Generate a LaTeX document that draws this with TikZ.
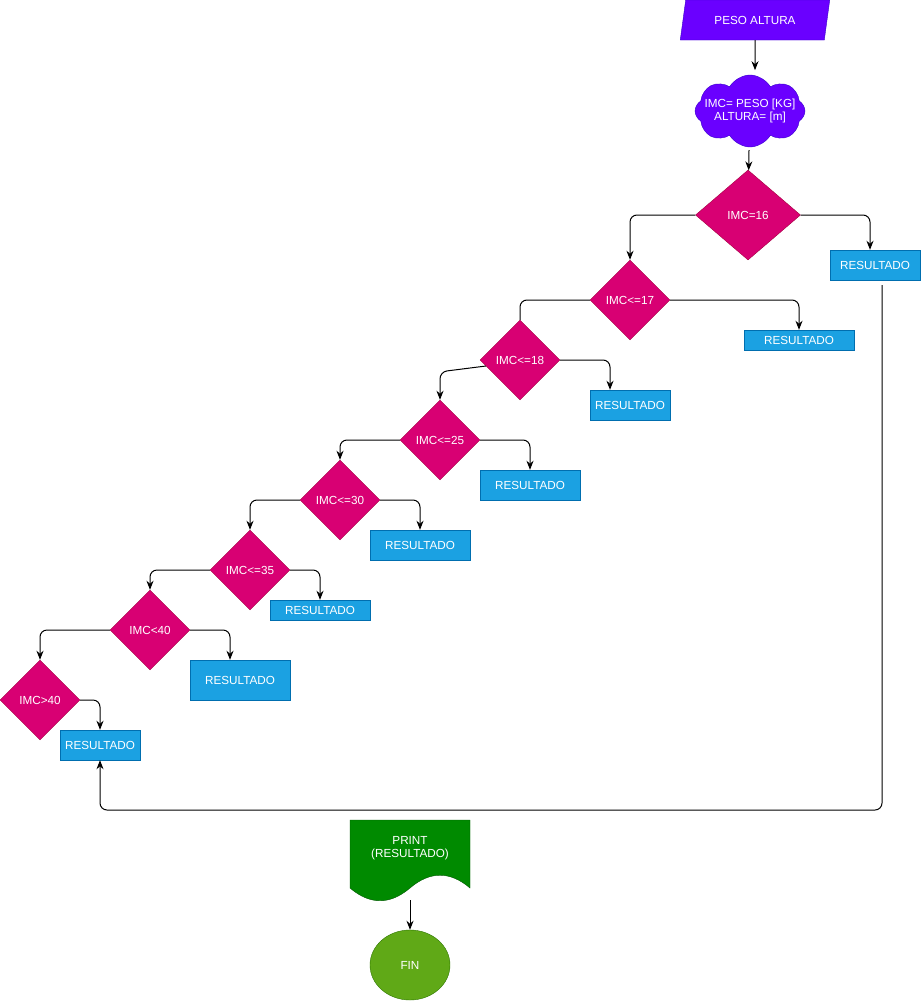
\documentclass[tikz,border=0pt]{standalone}
\usepackage{fontspec}
\setmainfont{Liberation Sans}
\usepackage{xcolor}
\usepackage{tikz}
\usetikzlibrary{positioning,arrows.meta,shapes.geometric,shapes.symbols}
\definecolor{imcpurple}{HTML}{6A00FF}
\definecolor{imcpurpleline}{HTML}{3700CC}
\definecolor{imcpink}{HTML}{D80073}
\definecolor{imcpinkline}{HTML}{A50040}
\definecolor{imcblue}{HTML}{1BA1E2}
\definecolor{imcblueline}{HTML}{006EAF}
\definecolor{imcgreen}{HTML}{008A00}
\definecolor{imcgreenline}{HTML}{005700}
\definecolor{imclime}{HTML}{60A917}
\definecolor{imclimeline}{HTML}{2D7600}
\tikzset{
  every node/.style={font=\fontsize{11.7}{13.5}\selectfont, text=white, align=center},
  io/.style={trapezium, trapezium left angle=69, trapezium right angle=111, trapezium stretches=true,
             draw=imcpurpleline, fill=imcpurple, minimum width=150pt, minimum height=40pt, inner sep=0pt},
  formula/.style={cloud, cloud puffs=8, cloud puff arc=120, cloud ignores aspect, draw=imcpurpleline, fill=imcpurple,
                  inner xsep=-9pt, inner ysep=-6pt, minimum width=110pt, minimum height=72pt},
  cond/.style={diamond, draw=imcpinkline, fill=imcpink, minimum width=80pt, minimum height=80pt, inner sep=0pt},
  res/.style={rectangle, draw=imcblueline, fill=imcblue, minimum width=100pt, minimum height=30pt, inner sep=0pt},
  term/.style={ellipse, draw=imclimeline, fill=imclime, minimum width=80pt, minimum height=70pt, inner sep=0pt},
  flow/.style={-{Stealth[length=9pt, width=7pt]}, line width=1pt, black, rounded corners=7pt},
  link/.style={line width=1pt, black, rounded corners=7pt}
}

\begin{document}
\begin{tikzpicture}[x=1pt, y=-1pt]
    \useasboundingbox (0,0) rectangle (921,1001);
    % entrada y formula
    \node[io] (peso) at (755,20) {PESO ALTURA};
    \node[formula] (imc) at (750,111) {IMC= PESO [KG]\\ALTURA= [m]};
    % condiciones
    \node[cond, minimum width=105pt, minimum height=90pt] (d16) at (748,215) {IMC=16};
    \node[cond] (d17) at (630,300) {IMC<=17};
    \node[cond] (d18) at (520,360) {IMC<=18};
    \node[cond] (d25) at (440,440) {IMC<=25};
    \node[cond] (d30) at (340,500) {IMC<=30};
    \node[cond] (d35) at (250,570) {IMC<=35};
    \node[cond] (d40) at (150,630) {IMC<40};
    \node[cond] (d41) at (40,700) {IMC>40};
    % resultados
    \node[res, minimum width=90pt] (r16) at (875,265) {RESULTADO};
    \node[res, minimum width=110pt, minimum height=20pt] (r17) at (799,340) {RESULTADO};
    \node[res, minimum width=80pt] (r18) at (630,405) {RESULTADO};
    \node[res] (r25) at (530,485) {RESULTADO};
    \node[res] (r30) at (420,545) {RESULTADO};
    \node[res, minimum height=20pt] (r35) at (320,610) {RESULTADO};
    \node[res, minimum height=40pt] (r40) at (240,680) {RESULTADO};
    \node[res, minimum width=80pt] (r41) at (100,745) {RESULTADO};
    % salida
    \fill[imcgreen, draw=imcgreenline] (350,820) -- (470,820) -- (470,888)
      .. controls (450,871) and (430,871) .. (410,888)
      .. controls (390,905) and (370,905) .. (350,888) -- cycle;
    \node (print) at (410,848) {PRINT\\(RESULTADO)};
    \coordinate (printend) at (410,900);
    \node[term] (fin) at (410,965) {FIN};
    \coordinate (back) at (882,810);

    \draw[flow] (peso) -- ([yshift=-30pt]peso.south);
    \draw[flow] ([xshift=-1pt, yshift=-3pt]imc.south) -- (d16);
    \draw[flow] (d16.west) -| (d17.north);
    \draw[flow] (d16.east) -| ([xshift=-5pt]r16.north);
    \draw[flow] (d17.east) -| (r17.north);
    \draw[link] (d17.west) -| (d18.north);
    \draw[flow] (d18.east) -| ([xshift=-20pt]r18.north);
    \draw[flow] (d18.190) -- ([yshift=28pt]d25.north) -- (d25.north);
    \draw[flow] (d25.east) -| (r25.north);
    \draw[flow] (d25.west) -| (d30.north);
    \draw[flow] (d30.east) -| (r30.north);
    \draw[flow] (d30.west) -| (d35.north);
    \draw[flow] (d35.east) -| (r35.north);
    \draw[flow] (d35.west) -| (d40.north);
    \draw[flow] (d40.east) -| ([xshift=-10pt]r40.north);
    \draw[flow] (d40.west) -| (d41.north);
    \draw[flow] (d41.east) -| (r41.north);
    \draw[flow] ([xshift=7pt, yshift=-5pt]r16.south) -- (back) -| (r41.south);
    \draw[flow] (printend) -- (fin);
  \end{tikzpicture}
\end{document}
